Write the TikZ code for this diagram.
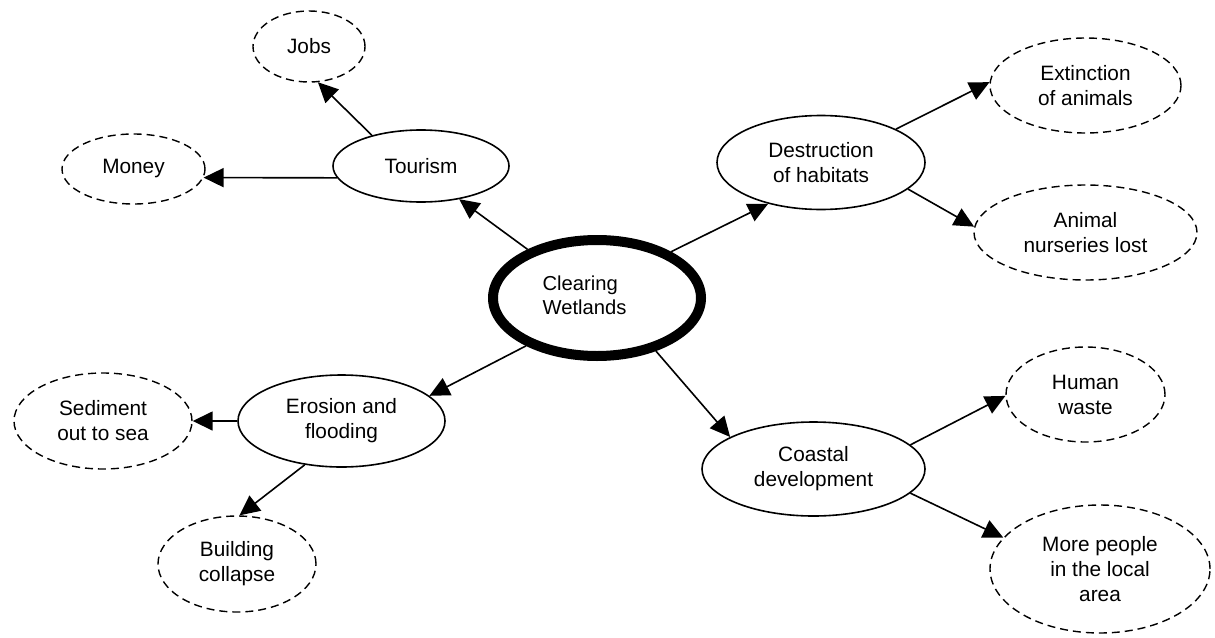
\documentclass[tikz,border=0pt]{standalone}
\usepackage{fontspec}
\setmainfont{Liberation Sans}
\usetikzlibrary{shapes.geometric,arrows.meta}
\begin{document}
\begin{tikzpicture}[x=1pt,y=-1pt,
  bub/.style={ellipse,draw,line width=1.6pt,inner sep=0pt,align=center,font=\fontsize{20.8}{25}\selectfont},
  dbub/.style={bub,line width=1.4pt,dash pattern=on 8pt off 5pt},
  conn/.style={line width=1.6pt,-{Triangle[length=20pt,width=19pt]}},
  sz/.style 2 args={minimum width=#1pt,minimum height=#2pt}]
\useasboundingbox (0,0) rectangle (1215,637);

\node[bub,line width=10pt,sz={208}{116},
  label={[font=\fontsize{20.2}{24}\selectfont,align=left,xshift=-12.5pt,yshift=3pt]center:Clearing\\Wetlands}] (cw) at (597,298) {};

\node[bub,sz={176}{72}] (tour) at (421,166) {Tourism};
\node[dbub,sz={112}{71}] (jobs) at (309,46.5) {Jobs};
\node[dbub,sz={143}{70}] (money) at (133.5,169) {Money};
\node[bub,sz={208}{94}] (dest) at (821,162.5) {Destruction\\of habitats};
\node[dbub,sz={191}{95}] (ext) at (1085.5,85.5) {Extinction\\of animals};
\node[dbub,sz={223}{95}] (anim) at (1085.5,232.5) {Animal\\nurseries lost};
\node[bub,sz={207}{92}] (eros) at (341.5,421) {Erosion and\\flooding};
\node[dbub,sz={178}{96}] (sed) at (103,421) {Sediment\\out to sea};
\node[dbub,sz={158}{96}] (build) at (237,564) {Building\\collapse};
\node[bub,sz={223}{94}] (coast) at (813.5,469) {Coastal\\development};
\node[dbub,sz={159}{95}] (human) at (1085.5,394.5) {Human\\waste};
\node[dbub,sz={220}{128}] (more) at (1100,569) {More people\\in the local\\area};

\draw[conn] (cw.145.8) -- (tour.-41.4);
\draw[conn] (cw.32.1) -- (dest.-142.2);
\draw[conn] (cw.214.2) -- (eros.16.8);
\draw[conn] (cw.-42) -- (coast.159.9);
\draw[conn] (tour.148.3) -- (jobs.-76.1);
\draw[conn] (tour.188.4) -- (money.-7.9);
\draw[conn] (dest.24.3) -- (ext.178.5);
\draw[conn] (dest.-17.5) -- (anim.177.2);
\draw[conn] (eros.180) -- (sed.0);
\draw[conn] (eros.-130.7) -- (build.87.7);
\draw[conn] (coast.14.4) -- (human.181.8);
\draw[conn] (coast.-14.5) -- (more.162.9);
\end{tikzpicture}
\end{document}
